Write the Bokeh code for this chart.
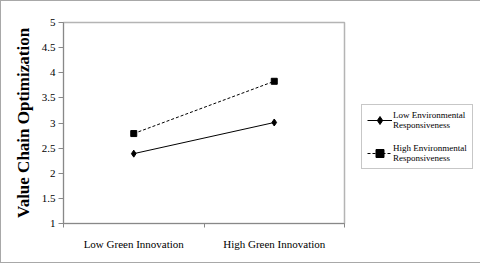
from bokeh.plotting import figure
from bokeh.models import FixedTicker, Legend, LegendItem, Range1d
from bokeh.embed import file_html
from bokeh.resources import INLINE

categories = ["Low Green Innovation", "High Green Innovation"]
cat_pos = [0.5, 1.5]
low_er = [2.39, 3.01]
high_er = [2.79, 3.83]
y_ticks = [1, 1.5, 2, 2.5, 3, 3.5, 4, 4.5, 5]
series_names = ["Low Environmental\nResponsiveness", "High Environmental\nResponsiveness"]

FONT = "Liberation Serif"

p = figure(width=478, height=261, output_backend="svg", toolbar_location=None,
           x_range=Range1d(0, 2), y_range=Range1d(1, 5),
           frame_width=281, frame_height=201,
           min_border_left=62, min_border_right=135, min_border_top=21, min_border_bottom=39)
p.styles = {"border": "1px solid #a8a8a8", "box-sizing": "content-box"}
p.xgrid.visible = False
p.ygrid.visible = False
p.outline_line_color = "#b4b4b4"
p.outline_line_width = 1.5

l1 = p.line(cat_pos, low_er, line_color="black", line_width=1)
m1 = p.scatter(cat_pos, low_er, marker="diamond", size=7, color="black")
l2 = p.line(cat_pos, high_er, line_color="black", line_width=1, line_dash="3 2")
m2 = p.scatter(cat_pos, high_er, marker="square", size=6, color="black")

# x axis
p.xaxis.ticker = FixedTicker(ticks=cat_pos, minor_ticks=[0, 1, 2])
p.xaxis.major_label_overrides = {0.5: categories[0], 1.5: categories[1]}
p.xaxis.major_tick_out = 0
p.xaxis.major_tick_in = 0
p.xaxis.minor_tick_out = 4
p.xaxis.minor_tick_in = 0
p.xaxis.minor_tick_line_color = "#888888"
p.xaxis.axis_line_color = "#888888"
p.xaxis.major_label_text_font = FONT
p.xaxis.major_label_text_font_size = "11px"
p.xaxis.major_label_text_color = "black"
p.xaxis.major_label_standoff = 10

# y axis
p.yaxis.ticker = FixedTicker(ticks=y_ticks, minor_ticks=[])
p.yaxis.major_tick_out = 5
p.yaxis.major_tick_in = 0
p.yaxis.major_tick_line_color = "#888888"
p.yaxis.axis_line_color = "#888888"
p.yaxis.major_label_text_font = FONT
p.yaxis.major_label_text_font_size = "11px"
p.yaxis.major_label_text_color = "black"
p.yaxis.major_label_standoff = 3
p.yaxis.axis_label = "Value Chain Optimization"
p.yaxis.axis_label_text_font = FONT
p.yaxis.axis_label_text_font_size = "17px"
p.yaxis.axis_label_text_font_style = "bold"
p.yaxis.axis_label_text_color = "black"
p.yaxis.axis_label_standoff = 6

legend = Legend(items=[LegendItem(label=series_names[0], renderers=[l1, m1]),
                       LegendItem(label=series_names[1], renderers=[l2, m2])],
                location=(17, 54))
legend.label_text_font = FONT
legend.label_text_font_size = "9px"
legend.label_text_line_height = 1.25
legend.label_text_color = "black"
legend.border_line_color = "#909090"
legend.border_line_width = 1
legend.glyph_width = 25
legend.label_standoff = 1
legend.padding = 5
legend.spacing = 13
legend.margin = 0
legend.background_fill_alpha = 1
p.add_layout(legend, "right")

open("out.html", "w").write(file_html(p, INLINE))
